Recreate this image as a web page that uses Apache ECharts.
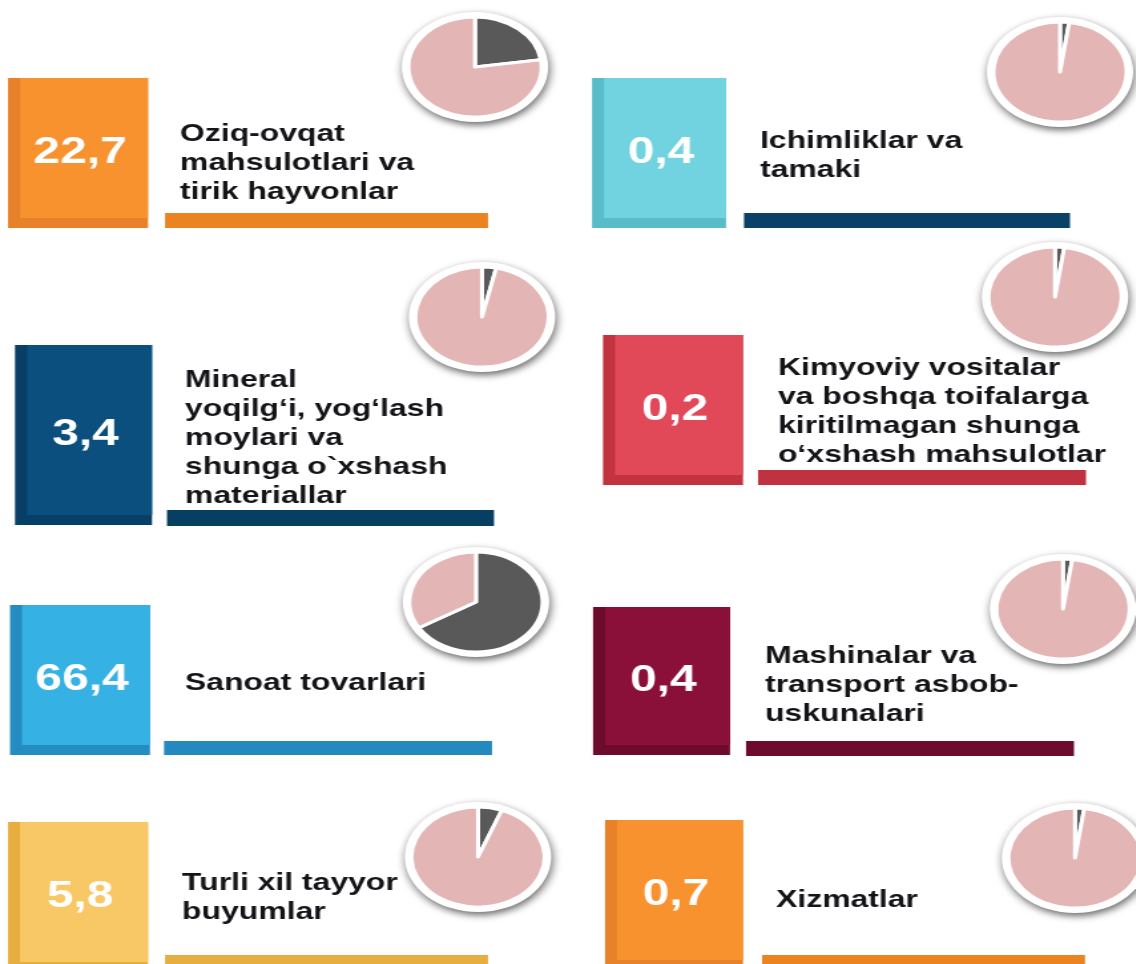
<!DOCTYPE html>
<html lang="uz">
<head>
  <meta charset="UTF-8">
  <title>Eksport tarkibi</title>
  <script src="https://cdn.jsdelivr.net/npm/echarts@6/dist/echarts.min.js"></script>
  <style>
    html, body { margin: 0; padding: 0; background: #fff; overflow: hidden; }
    /* the original picture is stretched sideways, so the pies are ellipses */
    #chart { width: 854px; height: 964px; transform: scaleX(1.33); transform-origin: 0 0; }
  </style>
</head>
<body>
<div id="chart"></div>
<script>
  // tovar guruhlari va ularning ulushi (%)
  const groupNames = [
    'Oziq-ovqat\nmahsulotlari va\ntirik hayvonlar',
    'Ichimliklar va\ntamaki',
    'Mineral\nyoqilg‘i, yog‘lash\nmoylari va\nshunga o`xshash\nmateriallar',
    'Kimyoviy vositalar\nva boshqa toifalarga\nkiritilmagan shunga\no‘xshash mahsulotlar',
    'Sanoat tovarlari',
    'Mashinalar va\ntransport asbob-\nuskunalari',
    'Turli xil tayyor\nbuyumlar',
    'Xizmatlar'
  ];
  const shares = [22.7, 0.4, 3.4, 0.2, 66.4, 0.4, 5.8, 0.7];

  // layout (screen px): box [x, y, w, h], label [x, first line y], bar [x, y, w, h], pie centre [x, y]
  const S = 1.33;
  const X = v => v / S;
  const tiles = [
    { box: [8, 78, 140, 150],  label: [180, 134], bar: [165, 213, 323, 15], pie: [475, 67] },
    { box: [592, 78, 134, 150], label: [760, 141], bar: [744, 213, 326, 15], pie: [1060, 72] },
    { box: [15, 345, 137, 180], label: [185, 380], bar: [167, 510, 327, 16], pie: [482, 317] },
    { box: [603, 335, 140, 150], label: [778, 368], bar: [758, 470, 328, 15], pie: [1055, 297] },
    { box: [10, 605, 140, 150], label: [185, 683], bar: [164, 741, 328, 14], pie: [476, 602] },
    { box: [593, 607, 137, 148], label: [765, 656], bar: [746, 741, 328, 15], pie: [1063, 609] },
    { box: [8, 822, 140, 150],  label: [182, 883], bar: [165, 955, 323, 15], pie: [478, 857] },
    { box: [605, 820, 138, 150], label: [776, 900], bar: [762, 955, 323, 15], pie: [1075, 858] }
  ];
  const boxColors  = ['#F7922F', '#72D3E0', '#0A4F7D', '#E14858', '#35B1E4', '#8A1039', '#F9C866', '#F7922F'];
  const stripColors = ['#E8822A', '#59BCC8', '#073F66', '#C3333F', '#258CC1', '#6D0B2C', '#E6AE3E', '#E8822A'];
  const barColors  = ['#EB8320', '#0A4166', '#073F63', '#C0323F', '#2389BF', '#6D0B2C', '#E5AE3F', '#EB8320'];

  const myChart = echarts.init(document.getElementById('chart'));

  const graphics = [];
  tiles.forEach((t, i) => {
    const [bx, by, bw, bh] = t.box;
    // box with darker left/bottom edge
    graphics.push({ type: 'rect', z: 1, shape: { x: X(bx), y: by, width: X(bw), height: bh }, style: { fill: stripColors[i] } });
    graphics.push({ type: 'rect', z: 2, shape: { x: X(bx + 12), y: by, width: X(bw - 12), height: bh - 10 }, style: { fill: boxColors[i] } });
    graphics.push({
      type: 'text', z: 3, x: X(bx + bw / 2 + 2), y: by + bh / 2,
      style: {
        text: shares[i].toFixed(1).replace('.', ','),
        fill: '#fff', font: 'bold 36px "Liberation Sans", Arial, sans-serif',
        align: 'center', verticalAlign: 'middle'
      }
    });
    // label
    graphics.push({
      type: 'text', z: 3, x: X(t.label[0]), y: t.label[1] - 14.5,
      style: {
        text: groupNames[i], fill: '#141418', lineHeight: 29,
        font: 'bold 24px "Liberation Sans", Arial, sans-serif',
        align: 'left', verticalAlign: 'top'
      }
    });
    // underline bar
    const [rx, ry, rw, rh] = t.bar;
    graphics.push({ type: 'rect', z: 1, shape: { x: X(rx), y: ry, width: X(rw), height: rh }, style: { fill: barColors[i] } });
    // white rim with shadow under the pie
    graphics.push({
      type: 'circle', z: 1, shape: { cx: X(t.pie[0]), cy: t.pie[1], r: 55 },
      style: { fill: '#fff', shadowBlur: 7, shadowOffsetX: 1, shadowOffsetY: 3, shadowColor: 'rgba(0,0,0,0.6)' }
    });
  });

  const option = {
    animation: false,
    graphic: { elements: graphics },
    series: shares.map((v, i) => ({
      type: 'pie',
      silent: true,
      z: 5,
      center: [X(tiles[i].pie[0]), tiles[i].pie[1]],
      radius: 50,
      startAngle: 90,
      minAngle: 8,
      label: { show: false },
      labelLine: { show: false },
      itemStyle: { borderColor: '#fff', borderWidth: 3 },
      data: [
        { name: groupNames[i].replace(/\n/g, ' '), value: v, itemStyle: { color: '#595959' } },
        { name: 'Boshqa', value: +(100 - v).toFixed(1), itemStyle: { color: '#E4B5B5' } }
      ]
    }))
  };

  myChart.setOption(option);
</script>
</body>
</html>
